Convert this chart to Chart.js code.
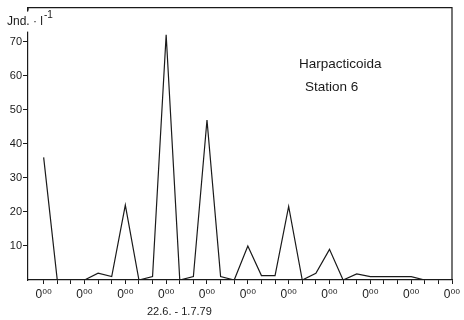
<!DOCTYPE html>
<html>
<head>
<meta charset="utf-8">
<script src="https://cdn.jsdelivr.net/npm/chart.js@4/dist/chart.umd.min.js"></script>
<style>
  html, body { margin: 0; padding: 0; background: #ffffff; }
  #wrap { width: 464px; height: 320px; position: relative; }
</style>
</head>
<body>
<div id="wrap"><canvas id="c" width="464" height="320"></canvas></div>
<script>
// sample index: one sample every 8 hours, 22.6. - 1.7.79
const sampleIndex = [0, 1, 2, 3, 4, 5, 6, 7, 8, 9, 10, 11, 12, 13, 14, 15, 16, 17, 18, 19, 20, 21, 22, 23, 24, 25, 26, 27, 28, 29, 30];
// individuals per litre
const abundance = [36, 0, 0, 0, 2, 1, 22, 0, 1, 72, 0, 1, 47, 1, 0, 10, 1.3, 1.3, 21.6, 0, 2, 9, 0, 1.8, 1, 1, 1, 1, 0, 0, 0];
// midnight ticks (every third sample)
const midnightTicks = [0, 3, 6, 9, 12, 15, 18, 21, 24, 27, 30];
const midnightLabel = "0\u2070\u2070";
const yTickValues = [10, 20, 30, 40, 50, 60, 70];
const yAxisTitle = "Jnd. \u00B7 l";
const yAxisTitleExp = "-1";
const taxonLabel = "Harpacticoida";
const stationLabel = "Station 6";
const periodLabel = "22.6. - 1.7.79";

const FONT = "'Liberation Sans', 'DejaVu Sans', sans-serif";
const INK = "#1a1a1a";

const annotate = {
  id: 'annotate',
  afterDraw(chart) {
    const ctx = chart.ctx;
    const ca = chart.chartArea;
    ctx.save();
    ctx.strokeStyle = INK;
    ctx.lineWidth = 1.2;
    // top and right frame
    ctx.beginPath();
    ctx.moveTo(ca.left, ca.top + 3);
    ctx.lineTo(ca.left, ca.top);
    ctx.lineTo(ca.right, ca.top);
    ctx.lineTo(ca.right, ca.bottom);
    ctx.stroke();
    // small gap in left axis where the unit label sits
    ctx.fillStyle = '#ffffff';
    ctx.fillRect(ca.left - 2, ca.top + 4, 4, 20);
    ctx.fillStyle = INK;
    ctx.textBaseline = 'middle';
    ctx.textAlign = 'left';
    ctx.font = "12px " + FONT;
    ctx.fillText(yAxisTitle, 7, 22);
    const w = ctx.measureText(yAxisTitle).width;
    ctx.font = "10px " + FONT;
    ctx.fillText(yAxisTitleExp, 7 + w + 1, 15);
    ctx.font = "13.5px " + FONT;
    ctx.fillText(taxonLabel, 299, 64);
    ctx.fillText(stationLabel, 305, 87);
    ctx.font = "11px " + FONT;
    ctx.fillText(periodLabel, 147, 312);
    ctx.restore();
  }
};

new Chart(document.getElementById('c'), {
  type: 'line',
  data: {
    datasets: [{
      data: sampleIndex.map((x, i) => ({ x: x, y: abundance[i] })),
      borderColor: INK,
      borderWidth: 1.2,
      pointRadius: 0,
      tension: 0,
      fill: false
    }]
  },
  options: {
    responsive: false,
    animation: false,
    devicePixelRatio: 1,
    layout: { padding: { left: 0, top: 7, right: 12, bottom: 0 } },
    plugins: { legend: { display: false }, tooltip: { enabled: false } },
    scales: {
      x: {
        type: 'linear',
        min: -1.15,
        max: 30,
        afterBuildTicks(scale) {
          scale.ticks = sampleIndex.map(v => ({ value: v }));
        },
        afterFit(scale) { scale.height = 40; },
        grid: { drawOnChartArea: false, drawTicks: true, tickLength: 4, color: INK, lineWidth: 1 },
        border: { display: true, color: INK, width: 1.2 },
        ticks: {
          autoSkip: false,
          maxRotation: 0,
          padding: 3,
          color: INK,
          font: { family: FONT, size: 12 },
          callback(v) { return midnightTicks.includes(v) ? midnightLabel : ''; }
        }
      },
      y: {
        type: 'linear',
        min: 0,
        max: 80,
        afterBuildTicks(scale) {
          scale.ticks = yTickValues.map(v => ({ value: v }));
        },
        afterFit(scale) { scale.width = 28; },
        grid: { drawOnChartArea: false, drawTicks: true, tickLength: 5, color: INK, lineWidth: 1 },
        border: { display: true, color: INK, width: 1.2 },
        ticks: {
          padding: 1,
          color: INK,
          font: { family: FONT, size: 11 },
          callback(v) { return String(v); }
        }
      }
    }
  },
  plugins: [annotate]
});
</script>
</body>
</html>
